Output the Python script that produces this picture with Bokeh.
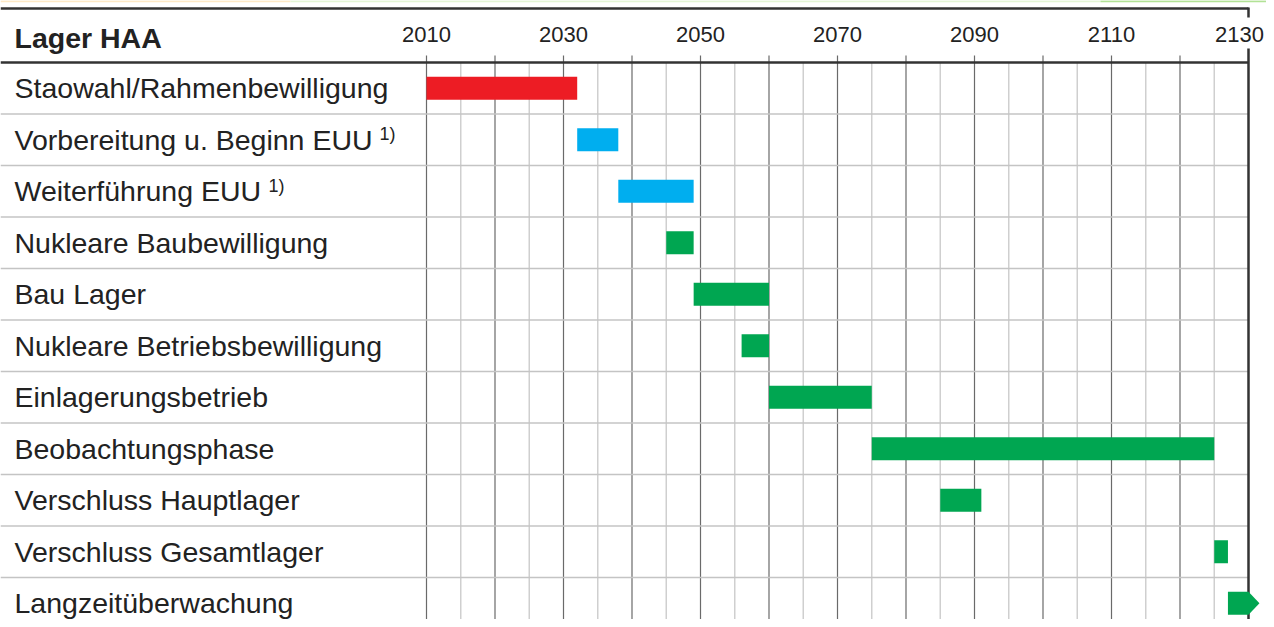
from bokeh.plotting import figure
from bokeh.models import Range1d, ColumnDataSource, LabelSet, Label
from bokeh.embed import file_html
from bokeh.resources import INLINE
from bokeh.core.properties import value

# ---------------- data ----------------
tasks = [
    "Staowahl/Rahmenbewilligung",
    "Vorbereitung u. Beginn EUU",
    "Weiterführung EUU",
    "Nukleare Baubewilligung",
    "Bau Lager",
    "Nukleare Betriebsbewilligung",
    "Einlagerungsbetrieb",
    "Beobachtungsphase",
    "Verschluss Hauptlager",
    "Verschluss Gesamtlager",
    "Langzeitüberwachung",
]
starts = [2010, 2032, 2038, 2045, 2049, 2056, 2060, 2075, 2085, 2125, 2127]
ends = [2032, 2038, 2049, 2049, 2060, 2060, 2075, 2125, 2091, 2127, 2130]
phase = ["red", "blue", "blue", "green", "green", "green", "green", "green", "green", "green", "green"]
footnote = [False, True, True, False, False, False, False, False, False, False, False]
arrow_row = [False] * 10 + [True]
year_labels = [2010, 2030, 2050, 2070, 2090, 2110, 2130]
title = "Lager HAA"
footnote_text = "1)"

# ---------------- layout / style ----------------
W, H = 1266, 619
PX_PER_YEAR = 6.85
X2010_PX = 426.0
ROW_PX = 51.5
HEADER_PX = 62.0
FONT = "Liberation Sans"
TXT = "#222222"
COLORS = {"red": "#ED1C24", "blue": "#00AEEF", "green": "#00A651"}

x_start = 2010 - X2010_PX / PX_PER_YEAR
x_end = x_start + W / PX_PER_YEAR


def py(c):
    """canvas pixel (from top) -> data y (rows, downward)"""
    return (c - HEADER_PX) / ROW_PX


def px(c):
    """canvas pixel (from left) -> data x"""
    return x_start + c / PX_PER_YEAR


p = figure(width=W, height=H, output_backend="svg", toolbar_location=None,
           x_range=Range1d(x_start, x_end), y_range=Range1d(py(H), py(0)),
           min_border=0, outline_line_color=None)
p.axis.visible = False
p.grid.visible = False
p.background_fill_color = "white"
p.border_fill_color = "white"

x_last = year_labels[-1]
n = len(tasks)

# faint decorative strip at the very top
p.segment(x0=[px(0), px(290), px(1100)], x1=[px(290), px(1100), px(W)],
          y0=[py(0.8)] * 3, y1=[py(0.8)] * 3,
          line_color=["#fde9c6", "#e4f5d6", "#b2e296"], line_width=2)

# light 5-year grid lines
light = [y for y in range(2015, x_last, 10)]
p.segment(x0=light, x1=light, y0=[0] * len(light), y1=[py(H)] * len(light),
          line_color="#cfcfcf", line_width=1.5)
# dark 10-year grid lines (with tick into header)
dark = [y for y in range(2010, x_last, 10)]
p.segment(x0=dark, x1=dark, y0=[py(HEADER_PX - 7)] * len(dark), y1=[py(H)] * len(dark),
          line_color="#6a6a6a", line_width=1.2)

# row separators
seps = list(range(1, n))
p.segment(x0=[x_start] * len(seps), x1=[x_last] * len(seps), y0=seps, y1=seps,
          line_color="#c4c4c4", line_width=1.5)

# header line and top line
p.segment(x0=[x_start, x_start], x1=[x_last, x_last], y0=[0, py(8)], y1=[0, py(8)],
          line_color="#333333", line_width=2.5)
# right border (interrupted by last label)
p.segment(x0=[x_last, x_last], x1=[x_last, x_last], y0=[py(7), py(48)], y1=[py(17), py(H)],
          line_color="#333333", line_width=2.5)

# bars
rows = [i + 0.5 for i in range(n)]
bar_h = 23 / ROW_PX
src = ColumnDataSource(dict(
    y=[r for r, a in zip(rows, arrow_row) if not a],
    left=[s for s, a in zip(starts, arrow_row) if not a],
    right=[e for e, a in zip(ends, arrow_row) if not a],
    color=[COLORS[c] for c, a in zip(phase, arrow_row) if not a],
))
p.hbar(y="y", left="left", right="right", height=bar_h, fill_color="color",
       line_color=None, source=src)

# arrow-shaped bar
tip = 1.6
for r, s, e, c, a in zip(rows, starts, ends, phase, arrow_row):
    if a:
        p.patch(x=[s, e, e + tip, e, s],
                y=[r - bar_h / 2, r - bar_h / 2, r, r + bar_h / 2, r + bar_h / 2],
                fill_color=COLORS[c], line_color=None)

# row labels
lab_src = ColumnDataSource(dict(y=rows, text=tasks))
p.add_layout(LabelSet(x=14, y="y", x_units="screen", text="text", source=lab_src,
                      text_font=value(FONT), text_font_size="28.5px", text_color=TXT,
                      text_baseline="middle", text_align="left"))

# footnote superscripts
sup_x = {1: 379, 2: 268}
for i, f in enumerate(footnote):
    if f:
        p.add_layout(Label(x=sup_x[i], y=rows[i] - 5.5 / ROW_PX, x_units="screen", text=footnote_text,
                           text_font=FONT, text_font_size="18px", text_color=TXT,
                           text_baseline="middle", text_align="left"))

# header
p.add_layout(Label(x=14, y=py(37), x_units="screen", text=title, text_font=FONT,
                   text_font_size="28.5px", text_font_style="bold", text_color=TXT,
                   text_baseline="middle", text_align="left"))
year_src = ColumnDataSource(dict(
    x=year_labels,
    y=[py(33.5)] * len(year_labels),
    text=[str(y) for y in year_labels],
    xoff=[0] * (len(year_labels) - 1) + [-9],
))
p.text(x="x", y="y", text="text", x_offset="xoff", source=year_src,
       text_font=value(FONT), text_font_size="22px", text_color=TXT,
       text_baseline="middle", text_align="center")

open("out.html", "w").write(file_html(p, INLINE))
